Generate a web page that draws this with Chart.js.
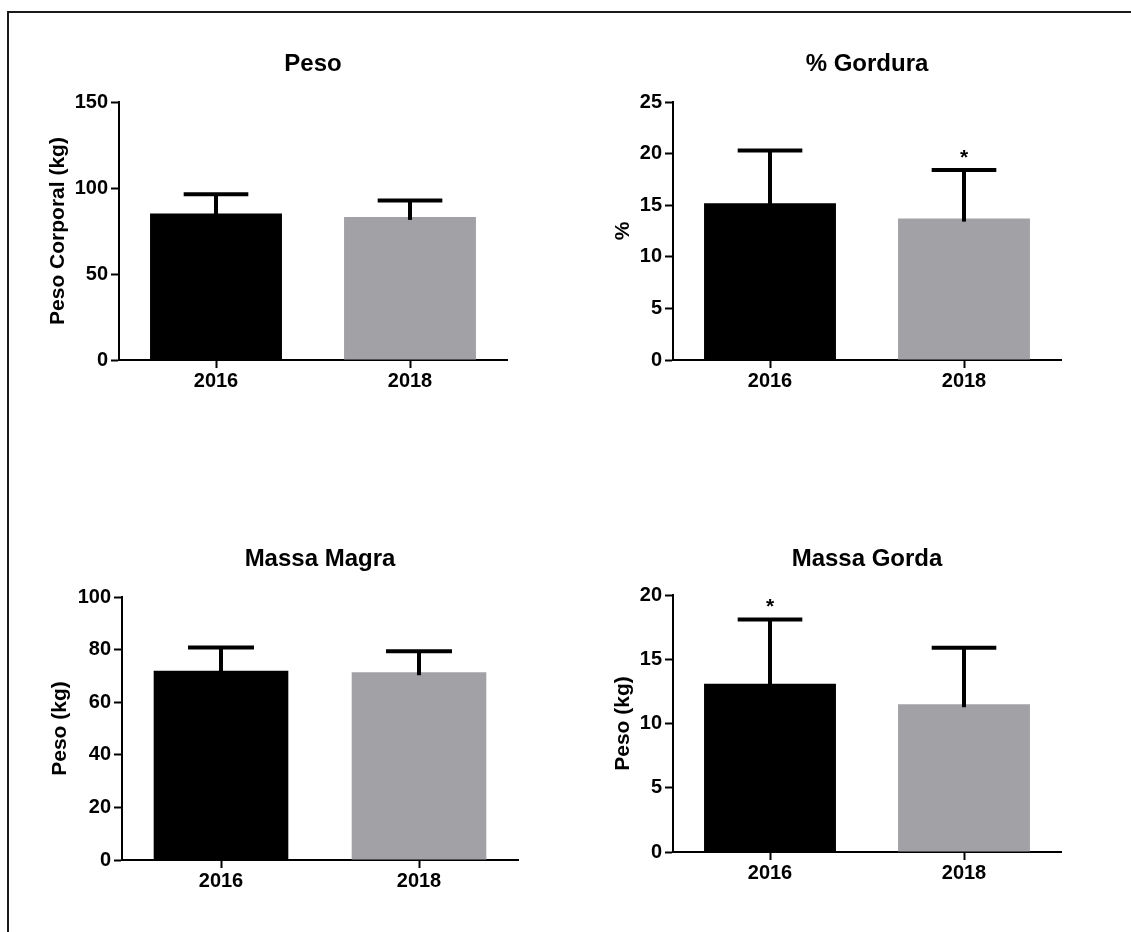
<!DOCTYPE html>
<html>
<head>
<meta charset="utf-8">
<script src="https://cdn.jsdelivr.net/npm/chart.js@4.4.1/dist/chart.umd.min.js"></script>
<style>
  html, body { margin: 0; padding: 0; background: #ffffff; }
  body { width: 1131px; height: 932px; position: relative; overflow: hidden; }
  #frame { position: absolute; left: 7px; top: 11px; width: 1140px; height: 940px;
           border-left: 2px solid #1a1a1a; border-top: 2px solid #1a1a1a; }
  canvas { position: absolute; }
</style>
</head>
<body>
<div id="frame"></div>
<canvas id="c1"></canvas>
<canvas id="c2"></canvas>
<canvas id="c3"></canvas>
<canvas id="c4"></canvas>
<script>
// ---- data ----
const categories = ['2016', '2018'];

const pesoMean = [85.2, 83.2];
const pesoSD = [11.2, 9.5];
const pesoTicks = [0, 50, 100, 150];
const pesoSig = ['', ''];

const gorduraMean = [15.2, 13.7];
const gorduraSD = [5.1, 4.7];
const gorduraTicks = [0, 5, 10, 15, 20, 25];
const gorduraSig = ['', '*'];

const magraMean = [72.0, 71.4];
const magraSD = [8.8, 8.0];
const magraTicks = [0, 20, 40, 60, 80, 100];
const magraSig = ['', ''];

const gordaMean = [13.1, 11.5];
const gordaSD = [5.0, 4.4];
const gordaTicks = [0, 5, 10, 15, 20];
const gordaSig = ['*', ''];

const barColors = ['#000000', '#a2a1a6'];
const FONT = "'Liberation Sans', Arial, Helvetica, sans-serif";

// ---- error bar + significance plugin (uses chart scales) ----
const errorBarPlugin = {
  id: 'errorBars',
  afterDatasetsDraw(chart, args, opts) {
    const ctx = chart.ctx;
    const yScale = chart.scales.y;
    const meta = chart.getDatasetMeta(0);
    const values = chart.data.datasets[0].data;
    meta.data.forEach((bar, i) => {
      const top = values[i] + opts.sd[i];
      const yTop = yScale.getPixelForValue(top);
      const yBase = yScale.getPixelForValue(values[i]);
      const capHalf = bar.width * 0.245;
      ctx.save();
      ctx.strokeStyle = '#000';
      ctx.lineWidth = 4;
      ctx.lineCap = 'butt';
      ctx.beginPath();
      ctx.moveTo(bar.x, yBase + 3);
      ctx.lineTo(bar.x, yTop);
      ctx.stroke();
      ctx.beginPath();
      ctx.moveTo(bar.x - capHalf, yTop);
      ctx.lineTo(bar.x + capHalf, yTop);
      ctx.stroke();
      if (opts.sig[i]) {
        ctx.fillStyle = '#000';
        ctx.font = 'bold 21px ' + FONT;
        ctx.textAlign = 'center';
        ctx.textBaseline = 'alphabetic';
        ctx.fillText(opts.sig[i], bar.x, yTop - 6);
      }
      ctx.restore();
    });
  }
};

function makeChart(id, cfg) {
  const cv = document.getElementById(id);
  const w = cfg.plotW + 2 * cfg.yw;
  cv.width = w; cv.height = cfg.h;
  cv.style.left = cfg.x + 'px'; cv.style.top = cfg.y + 'px';
  cv.style.width = w + 'px'; cv.style.height = cfg.h + 'px';
  const ticks = cfg.ticks;
  return new Chart(cv, {
    type: 'bar',
    data: {
      labels: categories,
      datasets: [{
        data: cfg.mean,
        backgroundColor: barColors,
        borderWidth: 0,
        barPercentage: 0.68,
        categoryPercentage: 1.0
      }]
    },
    options: {
      responsive: false,
      animation: false,
      devicePixelRatio: 1,
      layout: { padding: { left: 0, right: 0, top: 10, bottom: 0 } },
      plugins: {
        legend: { display: false },
        tooltip: { enabled: false },
        title: {
          display: true,
          text: cfg.title,
          color: '#000',
          font: { family: FONT, size: 24, weight: 'bold', lineHeight: '28px' },
          padding: { top: 0, bottom: cfg.titleGap }
        },
        errorBars: { sd: cfg.sd, sig: cfg.sig }
      },
      scales: {
        x: {
          offset: true,
          grid: { display: true, offset: false, drawOnChartArea: false, drawTicks: true,
                  tickLength: 8, tickWidth: 2, tickColor: '#000', color: '#000' },
          border: { display: true, color: '#000', width: 2 },
          ticks: { color: '#000', padding: 1, font: { family: FONT, size: 20, weight: 'bold' } },
          afterFit: s => { s.height = 45; }
        },
        y: {
          position: 'left',
          min: ticks[0],
          max: ticks[ticks.length - 1],
          afterBuildTicks: s => { s.ticks = ticks.map(v => ({ value: v })); },
          grid: { display: true, drawOnChartArea: false, drawTicks: true,
                  tickLength: 8, tickWidth: 2, tickColor: '#000', color: '#000' },
          border: { display: true, color: '#000', width: 2 },
          ticks: { color: '#000', padding: 3, font: { family: FONT, size: 20, weight: 'bold' } },
          title: {
            display: !!cfg.ytitle, text: cfg.ytitle, color: '#000', padding: 0,
            font: { family: FONT, size: 21, weight: 'bold', lineHeight: '24px' }
          },
          afterFit: s => { s.width = cfg.yw; }
        },
        // empty spacer on the right so the title centres over the plot
        yr: {
          axis: 'y',
          position: 'right',
          display: true,
          grid: { display: false, drawTicks: false },
          border: { display: false },
          ticks: { display: false },
          afterFit: s => { s.width = cfg.yw; }
        }
      }
    },
    plugins: [errorBarPlugin]
  });
}

// top-left: Peso
makeChart('c1', { x: 46, y: 40, plotW: 388, h: 365, yw: 73, titleGap: 24,
  title: 'Peso', ytitle: 'Peso Corporal (kg)', mean: pesoMean, sd: pesoSD, sig: pesoSig, ticks: pesoTicks });
// top-right: % Gordura
makeChart('c2', { x: 611, y: 40, plotW: 388, h: 365, yw: 62, titleGap: 24,
  title: '% Gordura', ytitle: '%', mean: gorduraMean, sd: gorduraSD, sig: gorduraSig, ticks: gorduraTicks });
// bottom-left: Massa Magra
makeChart('c3', { x: 48, y: 535, plotW: 396, h: 370, yw: 74, titleGap: 24,
  title: 'Massa Magra', ytitle: 'Peso (kg)', mean: magraMean, sd: magraSD, sig: magraSig, ticks: magraTicks });
// bottom-right: Massa Gorda
makeChart('c4', { x: 611, y: 535, plotW: 388, h: 362, yw: 62, titleGap: 22,
  title: 'Massa Gorda', ytitle: 'Peso (kg)', mean: gordaMean, sd: gordaSD, sig: gordaSig, ticks: gordaTicks });
</script>
</body>
</html>
